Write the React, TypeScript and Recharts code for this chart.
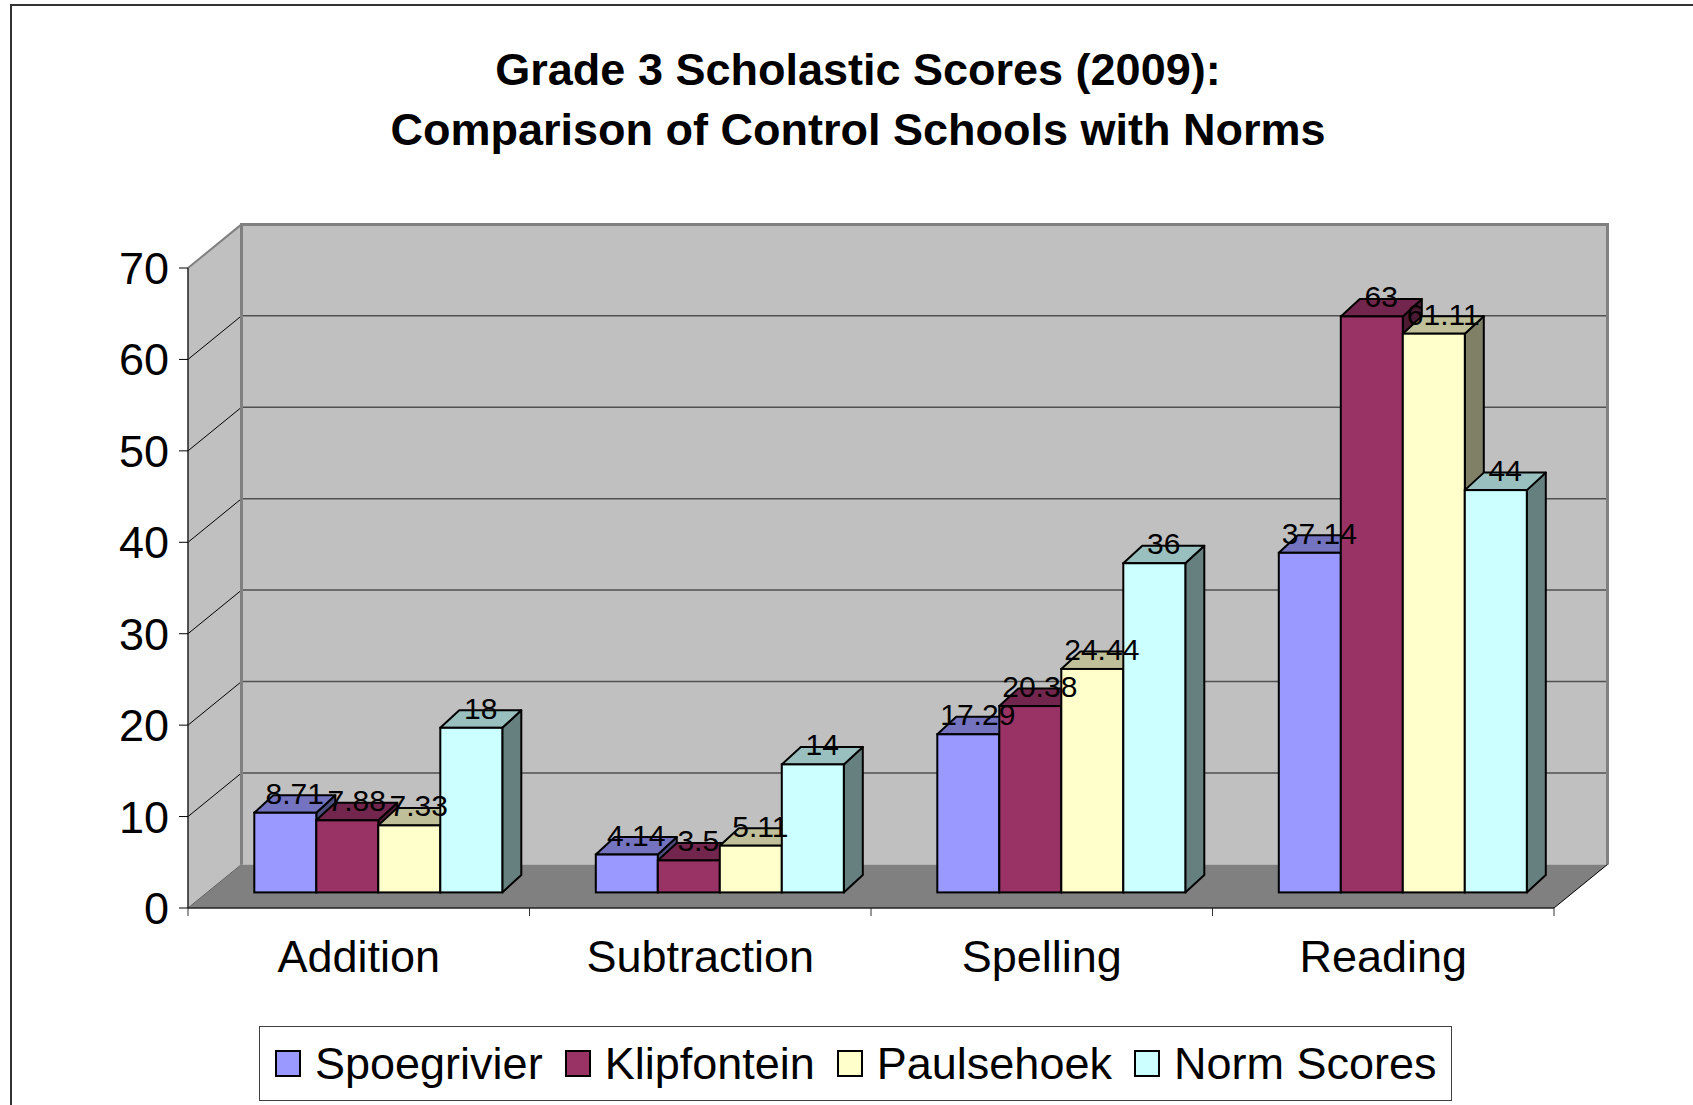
import React from 'react';
import { BarChart, Bar, XAxis, YAxis, ReferenceArea, LabelList } from 'recharts';

const categories = ['Addition', 'Subtraction', 'Spelling', 'Reading'];
const spoegrivier = [8.71, 4.14, 17.29, 37.14];
const klipfontein = [7.88, 3.5, 20.38, 63];
const paulsehoek = [7.33, 5.11, 24.44, 61.11];
const normScores = [18, 14, 36, 44];
const yTicks = [0, 10, 20, 30, 40, 50, 60, 70];

const titleLines = ['Grade 3 Scholastic Scores (2009):', 'Comparison of Control Schools with Norms'];

const seriesDefs = [
  { key: 'spoeg', name: 'Spoegrivier', values: spoegrivier, front: '#9999FF', top: '#7373BF', side: '#4D4D80' },
  { key: 'klip', name: 'Klipfontein', values: klipfontein, front: '#993366', top: '#73264D', side: '#4D1A33' },
  { key: 'paul', name: 'Paulsehoek', values: paulsehoek, front: '#FFFFCC', top: '#BFBF99', side: '#808066' },
  { key: 'norm', name: 'Norm Scores', values: normScores, front: '#CCFFFF', top: '#99BFBF', side: '#668080' },
];

const data = categories.map((c, i) => {
  const row: any = { category: c };
  seriesDefs.forEach((s) => { row[s.key] = s.values[i]; });
  return row;
});

const FONT = '"Liberation Sans", Arial, Helvetica, sans-serif';

// 3D projection parameters
const WALL_DX = 53.5;
const WALL_DY = -43.6;
const BAR_OFF_X = 19;
const BAR_OFF_Y = -15.6;
const BAR_DX = 19;
const BAR_DY = -17.5;

const make3DShape = (s: any) => (props: any) => {
  const { x, y, width, height } = props;
  if (x == null || y == null) return null;
  const X = x + BAR_OFF_X;
  const Y = y + BAR_OFF_Y;
  const B = Y + height;
  const R = X + width;
  return (
    <g>
      <polygon
        points={`${R},${Y} ${R + BAR_DX},${Y + BAR_DY} ${R + BAR_DX},${B + BAR_DY} ${R},${B}`}
        fill={s.side}
        stroke="#000"
        strokeWidth={2}
        strokeLinejoin="round"
      />
      <polygon
        points={`${X},${Y} ${X + BAR_DX},${Y + BAR_DY} ${R + BAR_DX},${Y + BAR_DY} ${R},${Y}`}
        fill={s.top}
        stroke="#000"
        strokeWidth={2}
        strokeLinejoin="round"
      />
      <rect x={X} y={Y} width={width} height={height} fill={s.front} stroke="#000" strokeWidth={2} />
    </g>
  );
};

const renderLabel = (props: any) => {
  const vb = props.viewBox && props.viewBox.width != null ? props.viewBox : props;
  const { x, y, width } = vb;
  if (x == null || y == null) return null;
  const cx = x + BAR_OFF_X + width / 2 + BAR_DX / 2;
  const by = y + BAR_OFF_Y - 9;
  return (
    <text x={cx} y={by} textAnchor="middle" fontSize={30} fill="#000" style={{ fontFamily: FONT }}>
      {props.value}
    </text>
  );
};

const WallShape = (props: any) => {
  const { x, y, width, height } = props;
  if (x == null) return null;
  const yMin = yTicks[0];
  const yMax = yTicks[yTicks.length - 1];
  const bottom = y + height;
  const right = x + width;
  const vy = (v: number) => bottom - ((v - yMin) / (yMax - yMin)) * height;
  const bx = x + WALL_DX;
  const by = (v: number) => vy(v) + WALL_DY;
  const n = categories.length;
  return (
    <g>
      {/* left side wall */}
      <polygon
        points={`${x},${y} ${bx},${y + WALL_DY} ${bx},${bottom + WALL_DY} ${x},${bottom}`}
        fill="#C0C0C0"
      />
      {/* back wall */}
      <rect x={bx} y={y + WALL_DY} width={width} height={height} fill="#C0C0C0" />
      {/* floor */}
      <polygon
        points={`${x},${bottom} ${right},${bottom} ${right + WALL_DX},${bottom + WALL_DY} ${bx},${bottom + WALL_DY}`}
        fill="#808080"
      />
      {/* gridlines */}
      {yTicks.slice(1, -1).map((v) => (
        <g key={v}>
          <line x1={x} y1={vy(v)} x2={bx} y2={by(v)} stroke="#000" strokeWidth={1} />
          <line x1={bx} y1={by(v)} x2={bx + width} y2={by(v)} stroke="#505050" strokeWidth={1.5} />
        </g>
      ))}
      {/* wall borders */}
      <line x1={x} y1={y} x2={bx} y2={y + WALL_DY} stroke="#808080" strokeWidth={2} />
      <polyline
        points={`${bx},${bottom + WALL_DY} ${bx},${y + WALL_DY} ${bx + width},${y + WALL_DY} ${bx + width},${bottom + WALL_DY}`}
        fill="none"
        stroke="#808080"
        strokeWidth={3}
      />
      <line x1={right} y1={bottom} x2={right + WALL_DX} y2={bottom + WALL_DY} stroke="#000" strokeWidth={1} />
      <line x1={x} y1={bottom} x2={bx} y2={bottom + WALL_DY} stroke="#606060" strokeWidth={1} />
      {/* category boundary ticks */}
      {Array.from({ length: n + 1 }).map((_, i) => (
        <line key={i} x1={x + (i * width) / n} y1={bottom} x2={x + (i * width) / n} y2={bottom + 8} stroke="#333" strokeWidth={1} />
      ))}
    </g>
  );
};

const CategoryTick = (props: any) => {
  const { x, y, payload } = props;
  return (
    <text x={x} y={y + 64} textAnchor="middle" fontSize={45} fill="#000" style={{ fontFamily: FONT }}>
      {payload.value}
    </text>
  );
};

export default function App() {
  return (
    <div
      style={{
        position: 'absolute',
        left: 0,
        top: 0,
        width: 1693,
        height: 1105,
        overflow: 'hidden',
        background: '#fff',
        fontFamily: FONT,
      }}
    >
      {/* outer chart border */}
      <div
        style={{
          position: 'absolute',
          left: 10,
          top: 4,
          width: 1750,
          height: 1200,
          borderTop: '2px solid #333',
          borderLeft: '2px solid #333',
        }}
      />
      {/* title */}
      <div
        style={{
          position: 'absolute',
          left: 0,
          top: 40,
          width: 1716,
          textAlign: 'center',
          fontWeight: 'bold',
          fontSize: 45,
          lineHeight: '60px',
          color: '#000',
        }}
      >
        {titleLines.map((t) => (
          <div key={t}>{t}</div>
        ))}
      </div>
      <div style={{ position: 'absolute', left: 0, top: 0 }}>
        <BarChart
          width={1693}
          height={1105}
          data={data}
          margin={{ top: 268, right: 139, bottom: 137, left: 68 }}
          barCategoryGap="13.85%"
          barGap={0}
        >
          <ReferenceArea
            y1={yTicks[0]}
            y2={yTicks[yTicks.length - 1]}
            ifOverflow="visible"
            shape={WallShape}
          />
          <XAxis
            dataKey="category"
            interval={0}
            tickLine={false}
            tickSize={0}
            tickMargin={0}
            height={60}
            axisLine={{ stroke: '#222', strokeWidth: 1.5 }}
            tick={CategoryTick}
          />
          <YAxis
            type="number"
            domain={[yTicks[0], yTicks[yTicks.length - 1]]}
            ticks={yTicks}
            interval={0}
            width={120}
            tickSize={9}
            tickMargin={10}
            axisLine={{ stroke: '#222', strokeWidth: 1.5 }}
            tickLine={{ stroke: '#000', strokeWidth: 1 }}
            tick={{ fontSize: 45, fill: '#000' }}
          />
          {seriesDefs.map((s) => (
            <Bar
              key={s.key}
              dataKey={s.key}
              name={s.name}
              fill={s.front}
              isAnimationActive={false}
              shape={make3DShape(s)}
            >
              <LabelList dataKey={s.key} content={renderLabel} />
            </Bar>
          ))}
        </BarChart>
      </div>
      {/* legend */}
      <div
        style={{
          position: 'absolute',
          left: 259,
          top: 1026,
          width: 1193,
          height: 75,
          boxSizing: 'border-box',
          border: '1.5px solid #404040',
          display: 'flex',
          alignItems: 'center',
          paddingLeft: 15,
          fontSize: 45,
          lineHeight: '75px',
          color: '#000',
          whiteSpace: 'nowrap',
          overflow: 'hidden',
        }}
      >
        {seriesDefs.map((s) => (
          <div key={s.key} style={{ display: 'flex', alignItems: 'center', marginRight: 22, flexShrink: 0 }}>
            <div
              style={{
                width: 26,
                height: 27,
                boxSizing: 'border-box',
                background: s.front,
                border: '2px solid #000',
                marginRight: 14,
                flexShrink: 0,
              }}
            />
            <span style={{ whiteSpace: 'nowrap' }}>{s.name}</span>
          </div>
        ))}
      </div>
    </div>
  );
}
